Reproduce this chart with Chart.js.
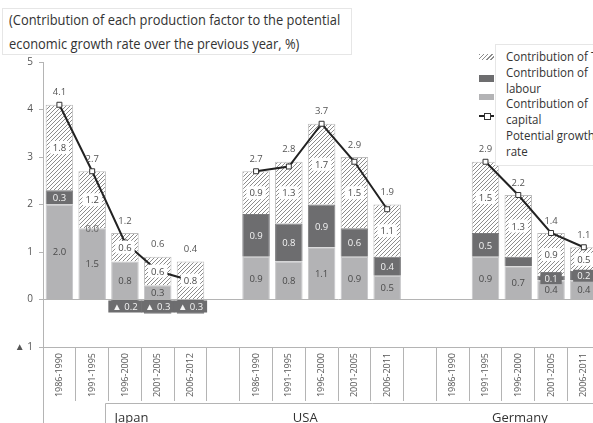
<!DOCTYPE html>
<html>
<head>
<meta charset="utf-8">
<script src="https://cdn.jsdelivr.net/npm/chart.js@4.4.0/dist/chart.umd.min.js"></script>
<style>
  html, body { margin: 0; padding: 0; background: #fff; overflow: hidden; }
  #wrap { position: relative; width: 593px; height: 423px; overflow: hidden; font-family: "Open Sans", sans-serif; }
  #chart { position: absolute; left: 0; top: 0; }
  #title { position: absolute; left: 2px; top: 8px; width: 350px; height: 47px; box-sizing: border-box;
           border: 1px solid #e6e6e6; background: #fff; }
  #title div { position: absolute; left: 6px; white-space: nowrap; font-size: 14px; color: #333;
               transform: scaleX(0.92); transform-origin: left center; }
  #legend { position: absolute; left: 495px; top: 44px; width: 130px; height: 122px; box-sizing: border-box;
            border: 1px solid #e6e6e6; background: #fff; }
  #legend div { position: absolute; left: 10px; white-space: nowrap; font-size: 12px; color: #333; line-height: 16px;
                transform: scaleX(0.96); transform-origin: left center; }
  .sw { position: absolute; left: 479px; width: 15px; }
  .hatch { background: repeating-linear-gradient(135deg, #8c8c8c 0 1px, #fff 1px 3px); }
</style>
</head>
<body>
<div id="wrap">
  <canvas id="chart" width="640" height="423"></canvas>
  <div id="title">
    <div style="top:1px">(Contribution of each production factor to the potential</div>
    <div style="top:25px">economic growth rate over the previous year, %)</div>
  </div>
  <div id="legend">
    <div style="top:4px">Contribution of TFP</div>
    <div style="top:20px">Contribution of</div>
    <div style="top:36px">labour</div>
    <div style="top:51px">Contribution of</div>
    <div style="top:67px">capital</div>
    <div style="top:83px">Potential growth</div>
    <div style="top:99px">rate</div>
  </div>
  <div class="sw hatch" style="top:54px;height:6px"></div>
  <div class="sw" style="top:75px;height:7px;background:#6d6d6f"></div>
  <div class="sw" style="top:94px;height:6px;background:#b3b3b5"></div>
  <div class="sw" style="top:115px;height:2px;background:#222"></div>
  <div class="sw" style="top:113px;left:484px;width:5px;height:5px;border:1px solid #333;background:#fff"></div>
</div>
<script>
// periods per country, blank slot between countries
const periods = [
  '1986-1990', '1991-1995', '1996-2000', '2001-2005', '2006-2012', '',
  '1986-1990', '1991-1995', '1996-2000', '2001-2005', '2006-2011', '',
  '1986-1990', '1991-1995', '1996-2000', '2001-2005', '2006-2011', ''
];
const countries = ['Japan', 'USA', 'Germany'];

const capital   = [2.0, 1.5, 0.8, 0.3, null, null, 0.9, 0.8, 1.1, 0.9, 0.5, null, null, 0.9, 0.7, 0.4, 0.4, null];
const labour    = [0.3, 0.0, -0.2, -0.3, -0.3, null, 0.9, 0.8, 0.9, 0.6, 0.4, null, null, 0.5, 0.2, 0.1, 0.2, null];
const tfp       = [1.8, 1.2, 0.6, 0.6, 0.8, null, 0.9, 1.3, 1.7, 1.5, 1.1, null, null, 1.5, 1.3, 0.9, 0.5, null];
const potential = [4.1, 2.7, 1.2, 0.6, 0.4, null, 2.7, 2.8, 3.7, 2.9, 1.9, null, null, 2.9, 2.2, 1.4, 1.1, null];

const yTicks = [-1, 0, 1, 2, 3, 4, 5];

// labour label not shown in the original for this slot
const hiddenLabourLabels = [14];

function fmt(v) {
  return v < 0 ? '\u25B2 ' + Math.abs(v).toFixed(1) : v.toFixed(1);
}

function makeHatch(ctx) {
  const c = document.createElement('canvas');
  c.width = 4; c.height = 4;
  const g = c.getContext('2d');
  g.fillStyle = '#fff';
  g.fillRect(0, 0, 4, 4);
  g.strokeStyle = '#8c8c8c';
  g.lineWidth = 1;
  g.beginPath();
  g.moveTo(0, 4); g.lineTo(4, 0);
  g.moveTo(-1, 1); g.lineTo(1, -1);
  g.moveTo(3, 5); g.lineTo(5, 3);
  g.stroke();
  return ctx.createPattern(c, 'repeat');
}

function roundBox(ctx, x, y, w, h, r) {
  ctx.beginPath();
  ctx.moveTo(x + r, y);
  ctx.arcTo(x + w, y, x + w, y + h, r);
  ctx.arcTo(x + w, y + h, x, y + h, r);
  ctx.arcTo(x, y + h, x, y, r);
  ctx.arcTo(x, y, x + w, y, r);
  ctx.closePath();
  ctx.fill();
}

// labels in segments + potential values above each stack
const segmentLabels = {
  id: 'segmentLabels',
  afterDatasetsDraw(chart) {
    const ctx = chart.ctx;
    const yScale = chart.scales.y;
    ctx.save();
    ctx.font = '9.5px "Open Sans"';
    ctx.textAlign = 'center';
    ctx.textBaseline = 'middle';

    // capital
    chart.getDatasetMeta(0).data.forEach((bar, i) => {
      const v = capital[i];
      if (v === null || v === 0) return;
      ctx.fillStyle = '#4a4a4a';
      ctx.fillText(fmt(v), bar.x, (bar.y + bar.base) / 2 + 1);
    });

    // labour
    chart.getDatasetMeta(1).data.forEach((bar, i) => {
      const v = labour[i];
      if (v === null || hiddenLabourLabels.includes(i)) return;
      const txt = fmt(v);
      const w = ctx.measureText(txt).width;
      let cy = (bar.y + bar.base) / 2;
      if (v === 0) {
        ctx.fillStyle = '#666';
        ctx.fillText(txt, bar.x, cy + 1);
        return;
      }
      if (v < 0) cy = yScale.getPixelForValue(0) + 7;
      if (Math.abs(bar.y - bar.base) < 14) {
        ctx.fillStyle = '#6d6d6f';
        ctx.fillRect(bar.x - w / 2 - 4, cy - 6, w + 8, 12);
      }
      ctx.fillStyle = '#f4f4f4';
      ctx.fillText(txt, bar.x, cy + 1);
    });

    // tfp
    chart.getDatasetMeta(2).data.forEach((bar, i) => {
      const v = tfp[i];
      if (v === null) return;
      const txt = fmt(v);
      const w = ctx.measureText(txt).width;
      const cy = (bar.y + bar.base) / 2;
      ctx.fillStyle = '#fff';
      roundBox(ctx, bar.x - w / 2 - 3, cy - 6.5, w + 6, 13, 2);
      ctx.fillStyle = '#4a4a4a';
      ctx.fillText(txt, bar.x, cy + 1);
    });

    // potential growth rate, above the stack
    const pts = chart.getDatasetMeta(3).data;
    pts.forEach((pt, i) => {
      const v = potential[i];
      if (v === null) return;
      const top = Math.min(chart.getDatasetMeta(2).data[i].y, pt.y);
      ctx.fillStyle = '#555';
      ctx.fillText(fmt(v), pt.x, top - 12);
    });
    ctx.restore();
  }
};

// axis extension, lower frame and country names
const axisExtras = {
  id: 'axisExtras',
  afterDraw(chart) {
    const ctx = chart.ctx;
    const area = chart.chartArea;
    const x = chart.scales.x;
    ctx.save();
    ctx.strokeStyle = '#b4b4b4';
    ctx.lineWidth = 1;
    ctx.beginPath();
    ctx.moveTo(area.left + 0.5, area.bottom);
    ctx.lineTo(area.left + 0.5, chart.height);
    ctx.moveTo(105.5, chart.height);
    ctx.lineTo(105.5, 403.5);
    ctx.lineTo(chart.width, 403.5);
    ctx.stroke();

    const slot = x.getPixelForValue(1) - x.getPixelForValue(0);
    const at = [2.2, 7.5, 14.05];
    ctx.font = '13px "Open Sans"';
    ctx.fillStyle = '#333';
    ctx.textAlign = 'center';
    ctx.textBaseline = 'middle';
    countries.forEach((c, k) => {
      ctx.fillText(c, x.getPixelForValue(0) + at[k] * slot, 418);
    });
    ctx.restore();
  }
};

const canvas = document.getElementById('chart');
const hatch = makeHatch(canvas.getContext('2d'));

Chart.defaults.font.family = '"Open Sans", sans-serif';
Chart.defaults.color = '#555';

new Chart(canvas, {
  type: 'bar',
  data: {
    labels: periods,
    datasets: [
      {
        label: 'Contribution of capital',
        data: capital,
        backgroundColor: '#b3b3b5',
        borderColor: '#c6c6c8',
        borderWidth: 1,
        stack: 's',
        order: 1
      },
      {
        label: 'Contribution of labour',
        data: labour,
        backgroundColor: '#6d6d6f',
        borderColor: '#7a7a7c',
        borderWidth: 1,
        stack: 's',
        order: 1
      },
      {
        label: 'Contribution of TFP',
        data: tfp,
        backgroundColor: hatch,
        borderColor: '#bdbdbd',
        borderWidth: 1,
        stack: 's',
        order: 1
      },
      {
        type: 'line',
        label: 'Potential growth rate',
        data: potential,
        borderColor: '#222',
        borderWidth: 2,
        pointStyle: 'rect',
        pointRadius: 3.5,
        pointBackgroundColor: '#fff',
        pointBorderColor: '#333',
        pointBorderWidth: 1,
        spanGaps: false,
        stack: 'line',
        order: 0
      }
    ]
  },
  options: {
    responsive: false,
    animation: false,
    layout: { padding: { top: 62, right: 7, left: 0, bottom: 0 } },
    datasets: {
      bar: { categoryPercentage: 1, barPercentage: 0.84 }
    },
    scales: {
      x: {
        stacked: true,
        grid: {
          offset: true,
          drawOnChartArea: false,
          drawTicks: true,
          tickLength: 54,
          color: '#b4b4b4',
          tickColor: '#b4b4b4'
        },
        border: { color: '#b4b4b4' },
        ticks: {
          autoSkip: false,
          maxRotation: 90,
          minRotation: 90,
          padding: -48,
          font: { size: 9 },
          color: '#555'
        },
        afterFit(s) { s.height = 76; }
      },
      y: {
        stacked: true,
        min: yTicks[0],
        max: yTicks[yTicks.length - 1],
        afterBuildTicks(s) { s.ticks = yTicks.map(v => ({ value: v })); },
        grid: {
          color: c => (c.tick && c.tick.value === 0 ? '#b4b4b4' : 'rgba(0,0,0,0)'),
          tickColor: '#b4b4b4',
          tickLength: 4
        },
        border: { color: '#b4b4b4' },
        ticks: {
          padding: 6,
          font: { size: 10 },
          color: '#555',
          callback: v => (v < 0 ? '\u25B2 ' + Math.abs(v) : v)
        },
        afterFit(s) { s.width = 43; }
      }
    },
    plugins: {
      legend: { display: false },
      tooltip: { enabled: false }
    }
  },
  plugins: [segmentLabels, axisExtras]
});
</script>
</body>
</html>
